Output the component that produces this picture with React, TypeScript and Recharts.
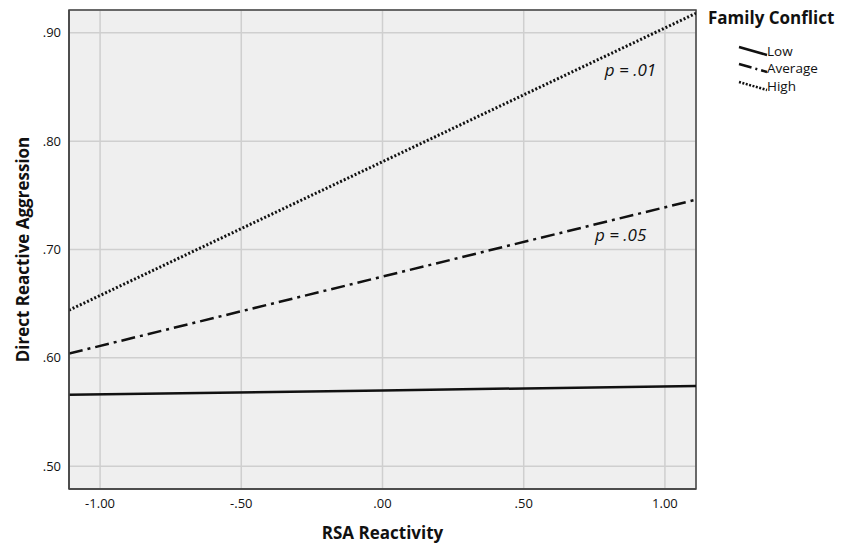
import React from 'react';
import {
  LineChart,
  Line,
  XAxis,
  YAxis,
  CartesianGrid,
  ReferenceArea,
  ReferenceDot,
  Legend,
} from 'recharts';

const xPoints = [-1.11, 0, 1.11];
const lowValues = [0.566, 0.57, 0.574];
const averageValues = [0.604, 0.675, 0.746];
const highValues = [0.644, 0.781, 0.918];

const xTicks = [-1, -0.5, 0, 0.5, 1];
const yTicks = [0.5, 0.6, 0.7, 0.8, 0.9];

const seriesNames = ['Low', 'Average', 'High'];

const data = xPoints.map((x, i) => ({
  x,
  low: lowValues[i],
  average: averageValues[i],
  high: highValues[i],
}));

const font = '"Open Sans", "DejaVu Sans", sans-serif';

// SPSS style number: drop leading zero
const fmt = (v: number) => {
  const s = Math.abs(v).toFixed(2).replace(/^0/, '');
  return v < 0 ? '-' + (Math.abs(v) >= 1 ? Math.abs(v).toFixed(2) : s) : s;
};

const LegendBox = () => (
  <div style={{ position: 'absolute', left: 708, top: 6, fontFamily: font, color: '#111' }}>
    <div style={{ fontWeight: 700, fontSize: 17, marginBottom: 13 }}>Family Conflict</div>
    {seriesNames.map((n) => (
      <div key={n} style={{ display: 'flex', alignItems: 'center', marginLeft: 30, height: 17.5 }}>
        <svg width={30} height={12}>
          <line
            x1={1}
            y1={2}
            x2={29}
            y2={10}
            stroke="#111"
            strokeWidth={2.5}
            strokeDasharray={n === 'Average' ? '13 4 2 4' : n === 'High' ? '2 1.5' : undefined}
          />
        </svg>
        <span style={{ fontSize: 13.5, marginLeft: -1 }}>{n}</span>
      </div>
    ))}
  </div>
);

const PLabel = ({ viewBox, text }: any) => (
  <text
    x={viewBox.x}
    y={viewBox.y}
    textAnchor="middle"
    dominantBaseline="middle"
    fontFamily={font}
    fontStyle="italic"
    fontSize={17}
    fill="#111"
  >
    {text}
  </text>
);

export default function App() {
  return (
    <div style={{ position: 'absolute', left: 0, top: 0, width: 846, height: 545, background: '#fff' }}>
      <LineChart width={846} height={545} data={data} margin={{ top: 10, right: 150, bottom: 26, left: 0 }}>
        <CartesianGrid fill="#efefef" stroke="#cfcfcf" strokeWidth={1.5} />
        <XAxis
          dataKey="x"
          type="number"
          domain={[-1.11, 1.11]}
          ticks={xTicks}
          tickFormatter={fmt}
          allowDataOverflow
          height={30}
          tickSize={0}
          tickMargin={10}
          axisLine={{ stroke: '#444', strokeWidth: 1.5 }}
          tick={{ fill: '#111', fontSize: 13, fontFamily: font }}
          label={{
            value: 'RSA Reactivity',
            position: 'bottom',
            offset: 8,
            style: { fontFamily: font, fontWeight: 700, fontSize: 17, fill: '#111' },
          }}
        />
        <YAxis
          type="number"
          domain={[0.479, 0.921]}
          ticks={yTicks}
          tickFormatter={fmt}
          allowDataOverflow
          width={69}
          tickSize={0}
          tickMargin={8}
          axisLine={{ stroke: '#444', strokeWidth: 1.5 }}
          tick={{ fill: '#111', fontSize: 13, fontFamily: font }}
          label={{
            value: 'Direct Reactive Aggression',
            angle: -90,
            position: 'insideLeft',
            offset: 23,
            style: { textAnchor: 'middle', fontFamily: font, fontWeight: 700, fontSize: 17, fill: '#111' },
          }}
        />
        <ReferenceArea x1={-1.11} x2={1.11} y1={0.479} y2={0.921} fill="none" stroke="#444" strokeWidth={1.5} />
        <Legend content={() => null} />
        <Line dataKey="low" name="Low" stroke="#111" strokeWidth={2.5} dot={false} isAnimationActive={false} />
        <Line
          dataKey="average"
          name="Average"
          stroke="#111"
          strokeWidth={2.5}
          strokeDasharray="14 5 3 5"
          dot={false}
          isAnimationActive={false}
        />
        <Line
          dataKey="high"
          name="High"
          stroke="#111"
          strokeWidth={3}
          strokeDasharray="2 2"
          dot={false}
          isAnimationActive={false}
        />
        <ReferenceDot x={0.878} y={0.864} r={0} label={<PLabel text="p = .01" />} />
        <ReferenceDot x={0.843} y={0.7125} r={0} label={<PLabel text="p = .05" />} />
      </LineChart>
      <LegendBox />
    </div>
  );
}
